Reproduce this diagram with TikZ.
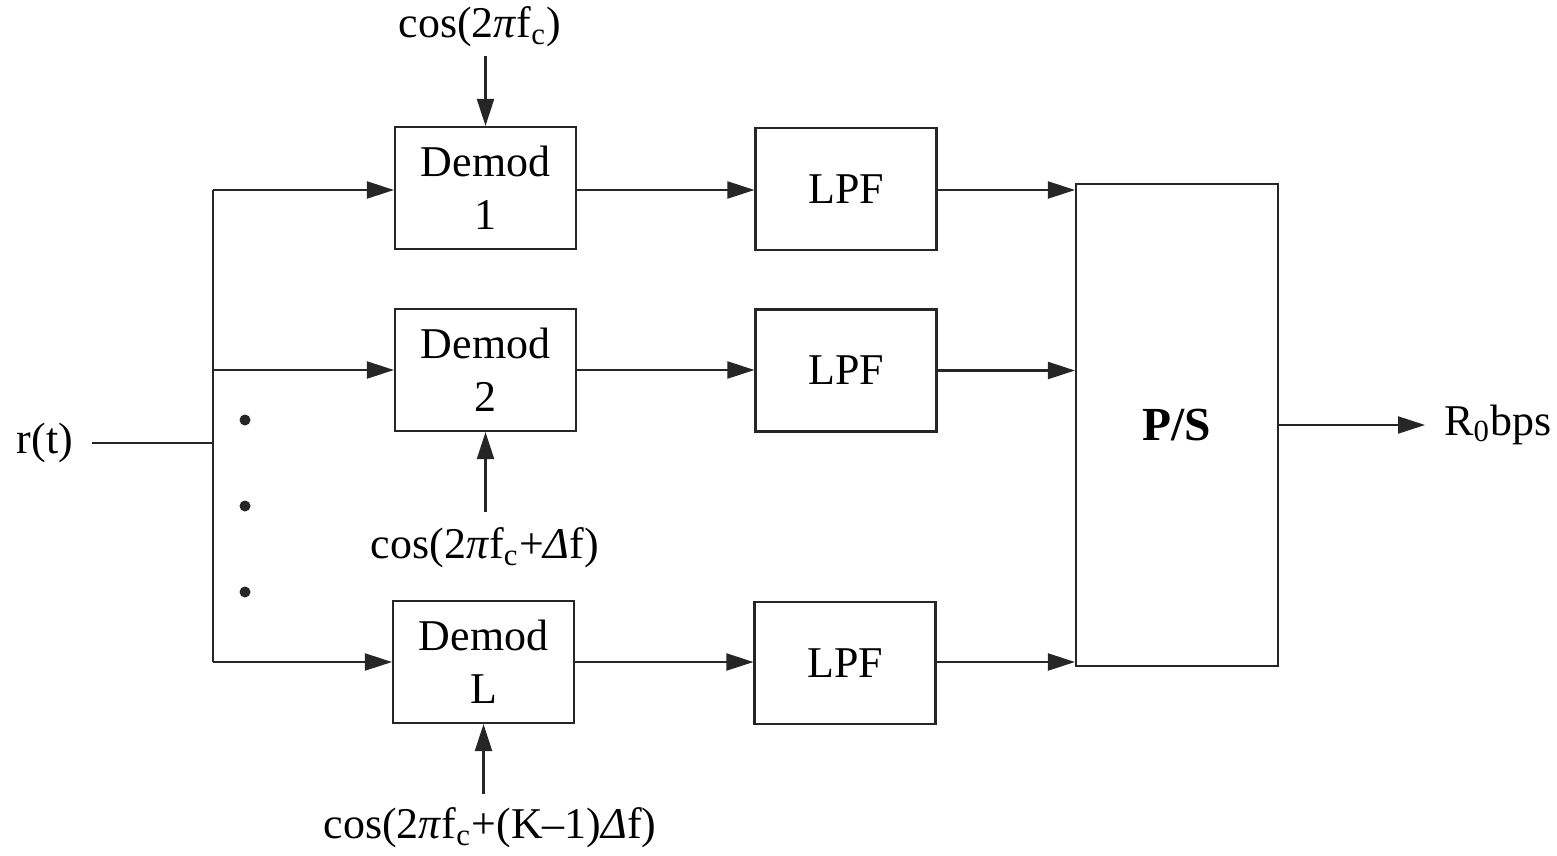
\documentclass[tikz,border=0pt]{standalone}
\usepackage{fontspec}
\setmainfont{Liberation Serif}
\usetikzlibrary{arrows.meta, positioning, calc}

\begin{document}
\begin{tikzpicture}[
        blk/.style={rectangle, draw=black!85, line width=0.6pt, minimum width=1.81cm, minimum height=1.22cm, align=center, font=\fontsize{12.5}{15}\selectfont, inner sep=0pt},
        sig/.style={-{Triangle[length=0.27cm, width=0.17cm]}, line width=0.6pt, draw=black!85},
        wire/.style={line width=0.6pt, draw=black!85},
        lbl/.style={font=\fontsize{12.5}{15}\selectfont, inner sep=1pt}
    ]
        \useasboundingbox (0,0) rectangle (15.57,-8.55);
        \node[blk] (d1) at (4.855, -1.88) {Demod\\1};
        \node[blk] (d2) at (4.855, -3.70) {Demod\\2};
        \node[blk] (dL) at (4.835, -6.62) {Demod\\L};
        \node[blk] (lpf1) at (8.46, -1.89) {LPF};
        \node[blk] (lpf2) at (8.46, -3.705) {LPF};
        \node[blk] (lpfL) at (8.45, -6.63) {LPF};
        \node[blk, minimum width=2.02cm, minimum height=4.82cm, font=\fontsize{13.5}{15}\selectfont\bfseries] (ps) at (11.77, -4.25) {P/S};
        \node[lbl] (rt) at (0.45, -4.43) {r(t)};
        \node[lbl, anchor=west] (out) at (14.40, -4.25) {R\textsubscript{0}bps};
        \node[lbl] (osc1) at (4.80, -0.27) {cos(2\textit{π}f\textsubscript{c})};
        \node[lbl] (osc2) at (4.85, -5.48) {cos(2\textit{π}f\textsubscript{c}+\textit{Δ}f)};
        \node[lbl] (oscL) at (4.90, -8.28) {cos(2\textit{π}f\textsubscript{c}+(K--1)\textit{Δ}f)};
        \coordinate (bustop) at (2.13, -1.90);
        \coordinate (busmid) at (2.13, -4.43);
        \coordinate (busbot) at (2.13, -6.62);
        \draw[wire] ([xshift=0.15cm]rt.east) -- (busmid);
        \draw[wire] (bustop) -- (busbot);
        \draw[sig] (bustop) -- (bustop -| d1.west);
        \draw[sig] (bustop |- d2.west) -- (d2.west);
        \draw[sig] (busbot) -- (dL.west);
        \foreach \y in {-4.20, -5.06, -5.92}
            \fill[black!85] (2.45, \y) circle (0.055);
        \draw[sig] (d1.east |- bustop) -- (lpf1.west |- bustop);
        \draw[sig] (d2.east) -- (lpf2.west |- d2.east);
        \draw[sig] (dL.east) -- (lpfL.west |- dL.east);
        \draw[sig] (lpf1.east |- bustop) -- (ps.west |- bustop);
        \draw[sig] (lpf2.east) -- (ps.west |- lpf2.east);
        \draw[sig] (lpfL.east |- busbot) -- (ps.west |- busbot);
        \draw[sig] (ps.east) -- ([xshift=-0.15cm]ps.east -| out.west);
        \draw[sig] ([yshift=-0.05cm]osc1.south -| d1.north) -- (d1.north);
        \draw[sig] ([yshift=0.12cm]osc2.north -| d2.south) -- (d2.south);
        \draw[sig] ([yshift=0.1cm]oscL.north -| dL.south) -- (dL.south);
    \end{tikzpicture}
\end{document}
